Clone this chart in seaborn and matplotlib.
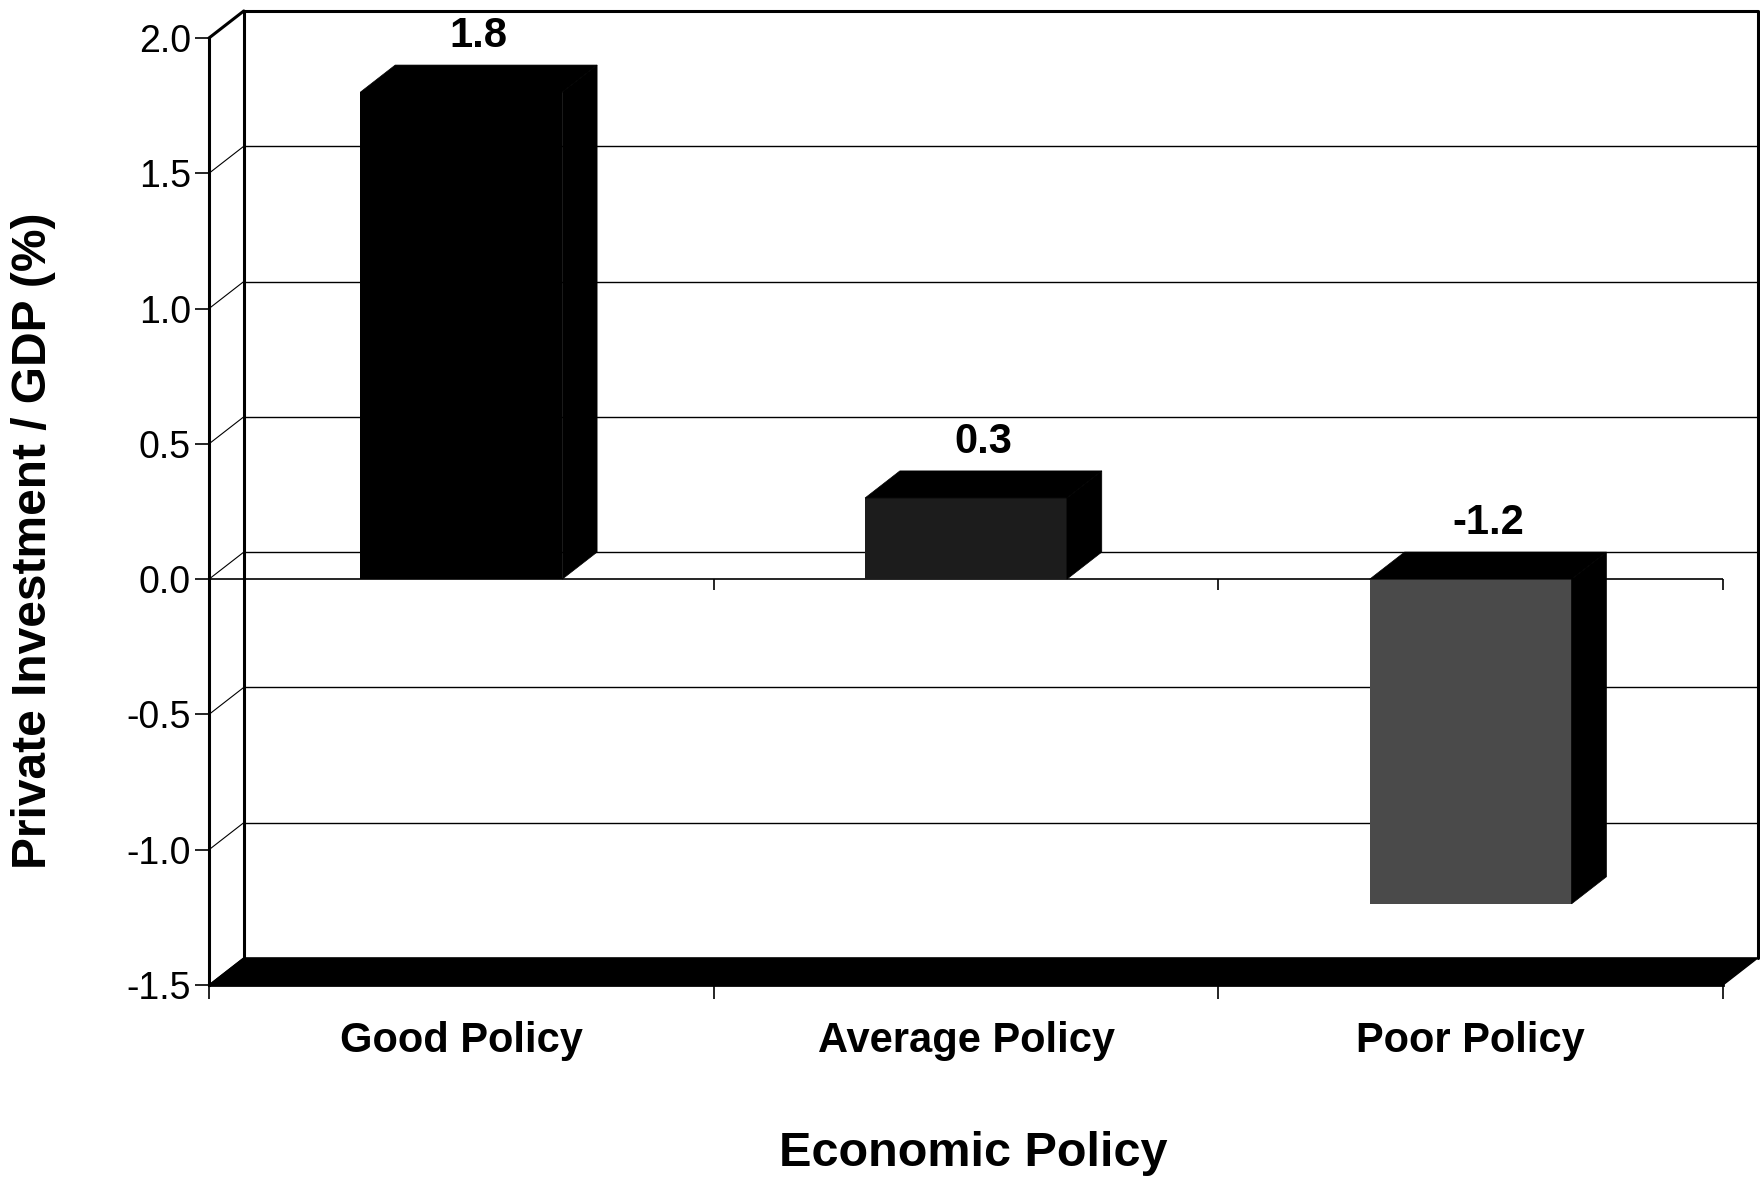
import numpy as np
import pandas as pd
import matplotlib.pyplot as plt
import seaborn as sns
from matplotlib.patches import Polygon

# Chart data
categories = ['Good Policy', 'Average Policy', 'Poor Policy']
values = [1.8, 0.3, -1.2]
value_labels = ['1.8', '0.3', '-1.2']
front_colors = ['#000000', '#1c1c1c', '#4a4a4a']
y_ticks = [-1.5, -1.0, -0.5, 0.0, 0.5, 1.0, 1.5, 2.0]

sns.set_style('white')
plt.rcParams['font.family'] = ['Liberation Sans', 'DejaVu Sans']
plt.rcParams['text.color'] = 'black'
plt.rcParams['axes.labelcolor'] = 'black'
plt.rcParams['xtick.color'] = 'black'
plt.rcParams['ytick.color'] = 'black'

fig = plt.figure(figsize=(17.6, 11.79), dpi=100)
ax = fig.add_axes([0.11875, 0.16455, 0.86023, 0.80322])

df = pd.DataFrame({'policy': categories, 'value': values})
sns.barplot(data=df, x='policy', y='value', hue='policy', order=categories,
            hue_order=categories, palette=front_colors, legend=False,
            width=0.4, saturation=1, ax=ax, zorder=3, linewidth=0)

ax.set_xlim(-0.5, 2.5)
ax.set_ylim(-1.5, 2.0)

# depth of the pseudo-3D box, in data units
DX, DY = 0.069, 0.1
x_lo, x_hi = -0.5, 2.5
y_lo, y_hi = -1.5, 2.0

# back wall gridlines and side-wall diagonals
for t in y_ticks:
    ax.plot([x_lo + DX, x_hi + DX], [t + DY, t + DY], color='black', lw=1.0,
            zorder=1, clip_on=False)
    ax.plot([x_lo, x_lo + DX], [t, t + DY], color='black', lw=0.8,
            zorder=1, clip_on=False)

# back wall frame
ax.plot([x_lo + DX, x_lo + DX, x_hi + DX, x_hi + DX],
        [y_lo + DY, y_hi + DY, y_hi + DY, y_lo + DY],
        color='black', lw=2.2, zorder=1, clip_on=False)
ax.plot([x_lo, x_lo + DX], [y_hi, y_hi + DY], color='black', lw=2.2,
        zorder=1, clip_on=False)

# floor slab
floor = Polygon([(x_lo, y_lo), (x_hi, y_lo), (x_hi + DX, y_lo + DY), (x_lo + DX, y_lo + DY)],
                closed=True, facecolor='black', edgecolor='black', zorder=2, clip_on=False)
ax.add_patch(floor)

# front zero line with small ticks
ax.plot([x_lo, x_hi], [0, 0], color='black', lw=1.2, zorder=2)
ax.vlines([0.5, 1.5, 2.5], -0.04, 0, color='black', lw=1.2, zorder=2, clip_on=False)

# top and side faces of each bar
for i, patch in enumerate(ax.patches[:len(values)]):
    x0 = patch.get_x()
    x1 = x0 + patch.get_width()
    y0 = patch.get_y()
    y1 = y0 + patch.get_height()
    lo, hi = min(y0, y1), max(y0, y1)
    top = Polygon([(x0, hi), (x1, hi), (x1 + DX, hi + DY), (x0 + DX, hi + DY)],
                  closed=True, facecolor='black', edgecolor='black', lw=0.5, zorder=3)
    side = Polygon([(x1, lo), (x1, hi), (x1 + DX, hi + DY), (x1 + DX, lo + DY)],
                   closed=True, facecolor='black', edgecolor='black', lw=0.5, zorder=3)
    ax.add_patch(top)
    ax.add_patch(side)
    xc = x0 + patch.get_width() / 2
    ax.annotate(value_labels[i], xy=(xc + DX / 2, hi + DY), xytext=(0, 21),
                textcoords='offset points', ha='center', va='center',
                fontsize=30, fontweight='bold', annotation_clip=False)

# axes styling
for s in ['top', 'right']:
    ax.spines[s].set_visible(False)
ax.spines['left'].set_linewidth(2.2)
ax.spines['bottom'].set_linewidth(2.0)
ax.spines['left'].set_color('black')
ax.spines['bottom'].set_color('black')

ax.set_yticks(y_ticks)
ax.set_yticklabels([f'{t:.1f}' for t in y_ticks], fontsize=27)
ax.tick_params(axis='y', left=True, length=10, width=1.2, pad=3)

ax.set_xticks([-0.5, 0.5, 1.5, 2.5])
ax.set_xticklabels(['', '', '', ''])
ax.set_xticks([0, 1, 2], minor=True)
ax.set_xticklabels(categories, minor=True, fontsize=30, fontweight='bold')
ax.tick_params(axis='x', which='major', bottom=True, length=10, width=1.2)
ax.tick_params(axis='x', which='minor', bottom=False, length=0, pad=26)

ax.set_xlabel('Economic Policy', fontsize=35, fontweight='bold', va='center')
ax.xaxis.set_label_coords(0.5046, -0.178)
ax.set_ylabel('Private Investment / GDP (%)', fontsize=34.5, fontweight='bold', va='center')
ax.yaxis.set_label_coords(-0.1156, 0.469)

fig.savefig('out.png', dpi=100)
plt.close()
